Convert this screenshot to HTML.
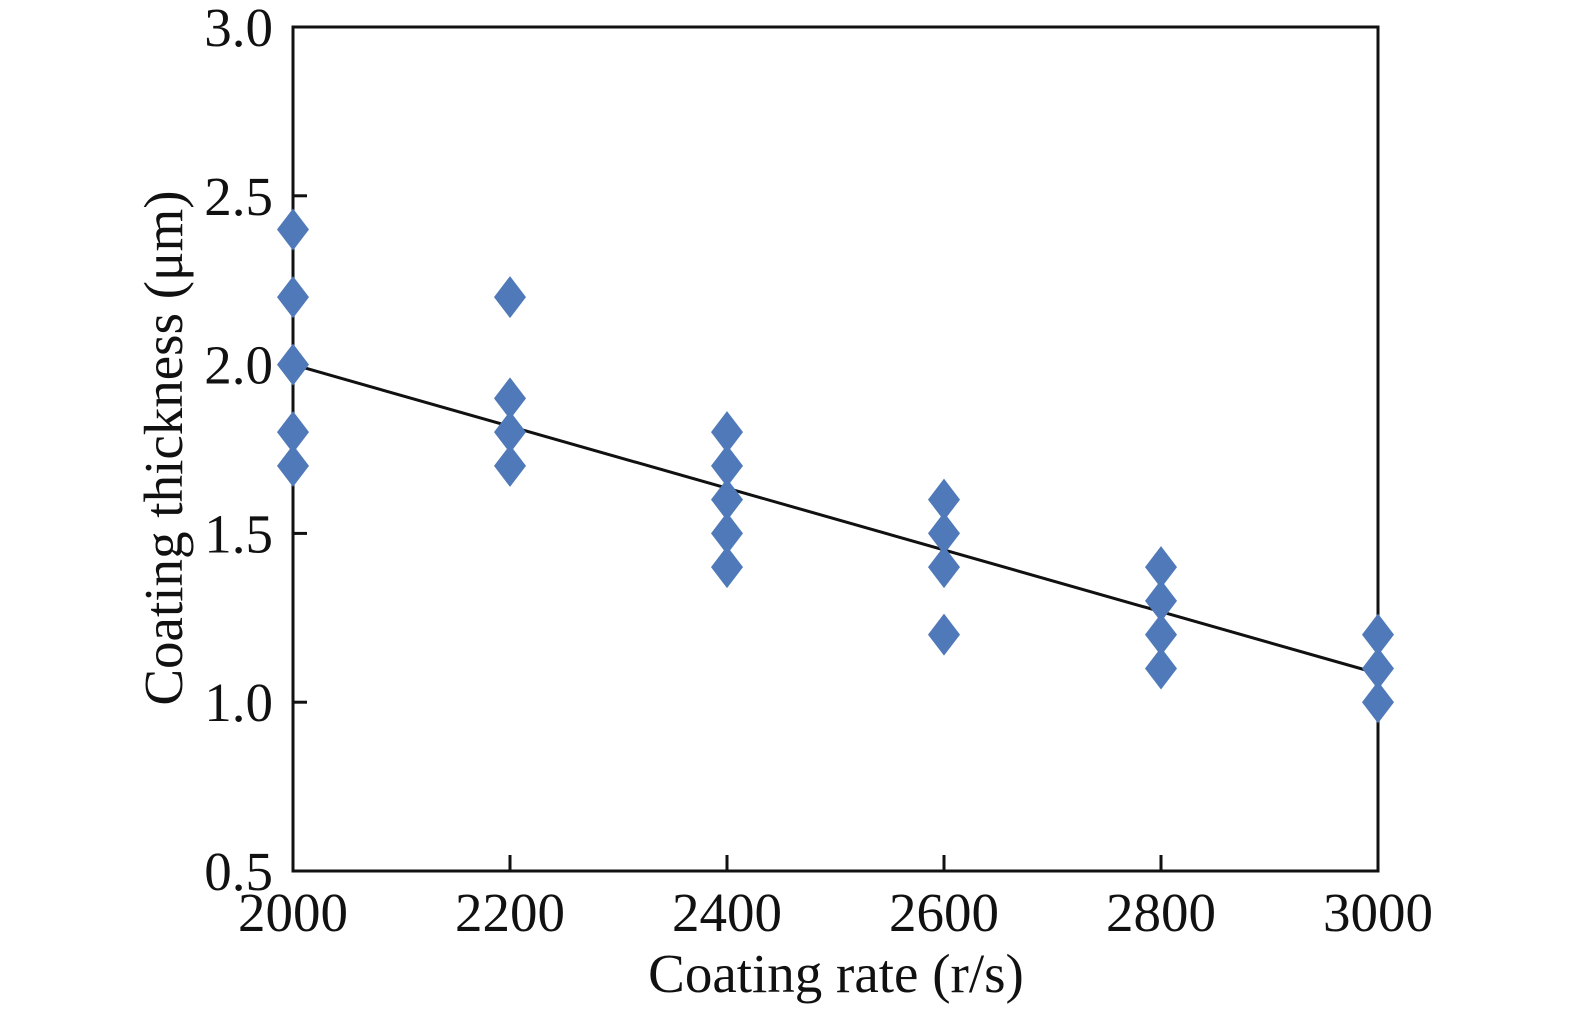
<!DOCTYPE html>
<html><head><meta charset="utf-8"><style>
html,body{margin:0;padding:0;background:#fff;}
svg{display:block;font-family:"Liberation Serif",serif;}
</style></head><body>
<svg id="chart" width="1575" height="1014">
<g id="axes"></g>
<g id="marks"></g>
<text x="836" y="992" font-size="55" text-anchor="middle" fill="#111">Coating rate (r/s)</text>
<text transform="translate(182,448) rotate(-90)" font-size="55" text-anchor="middle" fill="#111">Coating thickness (μm)</text>
</svg>
<script>
const xCategories = [2000, 2200, 2400, 2600, 2800, 3000];
const yValues2000 = [2.4, 2.2, 2.0, 1.8, 1.7];
const yValues2200 = [2.2, 1.9, 1.8, 1.7];
const yValues2400 = [1.8, 1.7, 1.6, 1.5, 1.4];
const yValues2600 = [1.6, 1.5, 1.4, 1.2];
const yValues2800 = [1.4, 1.3, 1.2, 1.1];
const yValues3000 = [1.2, 1.1, 1.0];
const yTicks = [0.5, 1.0, 1.5, 2.0, 2.5, 3.0];
const xTicks = [2000, 2200, 2400, 2600, 2800, 3000];
const fitStart = [2000, 2.0];
const fitEnd = [3000, 1.085];

const L = 293, R = 1378, T = 27, B = 871;
const xMin = 2000, xMax = 3000, yMin = 0.5, yMax = 3.0;
function xs(v){ return L + (v - xMin) / (xMax - xMin) * (R - L); }
function ys(v){ return B - (v - yMin) / (yMax - yMin) * (B - T); }
const NS = "http://www.w3.org/2000/svg";
const axes = document.getElementById('axes');
const marks = document.getElementById('marks');
function mk(tag, attrs, parent){
  const e = document.createElementNS(NS, tag);
  for (const k in attrs) e.setAttribute(k, attrs[k]);
  parent.appendChild(e); return e;
}
let e = mk('rect', {x:L, y:T, width:R-L, height:B-T, fill:'none', stroke:'#111', 'stroke-width':3}, axes);


yTicks.forEach(v => {
  const y = ys(v);
  const t = mk('line', {x1:L, x2:L+14, y1:y, y2:y, stroke:'#111', 'stroke-width':3}, axes);
  
  
  const lb = mk('text', {x:273, y:y+19, 'font-size':55, 'text-anchor':'end', fill:'#111'}, axes);
  lb.textContent = v.toFixed(1);
  
  
});
xTicks.forEach(v => {
  const x = xs(v);
  const t = mk('line', {x1:x, x2:x, y1:B, y2:B-16, stroke:'#111', 'stroke-width':3}, axes);
  
  
  const lb = mk('text', {x:x, y:931, 'font-size':55, 'text-anchor':'middle', fill:'#111'}, axes);
  lb.textContent = String(v);
  
  
});
const fit = mk('line', {x1:xs(fitStart[0]), y1:ys(fitStart[1]), x2:xs(fitEnd[0]), y2:ys(fitEnd[1]), stroke:'#111', 'stroke-width':3}, marks);


const series = [yValues2000, yValues2200, yValues2400, yValues2600, yValues2800, yValues3000];
series.forEach((arr, i) => {
  const cx = xs(xCategories[i]);
  arr.forEach(v => {
    const cy = ys(v);
    const d = mk('polygon', {points:`${cx},${cy-21} ${cx+16},${cy} ${cx},${cy+21} ${cx-16},${cy}`, fill:'#4f79b8'}, marks);
    
    
  });
});
</script>
</body></html>
